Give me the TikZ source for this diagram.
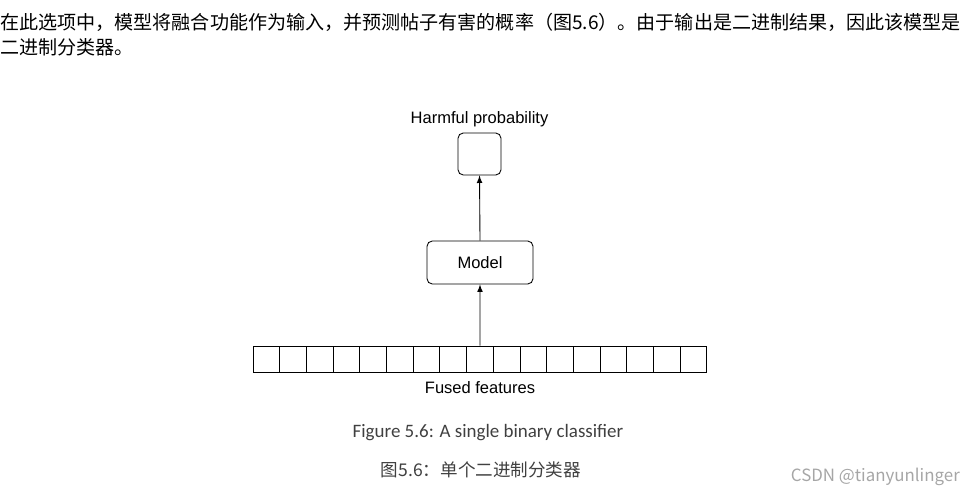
\documentclass[tikz,border=0pt]{standalone}
\usepackage{fontspec}
\setmainfont{Liberation Sans}
\newfontfamily\cjk{Noto Sans CJK SC}
\newfontfamily\capfont{Carlito}
\usetikzlibrary{positioning}

\begin{document}
\begin{tikzpicture}[x=0.02cm, y=-0.02cm,
    box/.style={rectangle, draw, rounded corners=3pt, line width=0.5pt},
    cell/.style={rectangle, draw, line width=0.5pt, minimum width=0.534cm, minimum height=0.52cm, inner sep=0pt},
    lbl/.style={font=\fontsize{9.4pt}{11pt}\selectfont},
    arr/.style={-latex, line width=0.5pt}]
  \useasboundingbox (0,0) rectangle (969,493);
  % Intro text
  \node (intro1) [anchor=west, inner sep=0pt, font=\cjk\fontsize{10.85pt}{12pt}\selectfont] at (0,22) {在此选项中，模型将融合功能作为输入，并预测帖子有害的概率（图5.6）。由于输出是二进制结果，因此该模型是};
  \node (intro2) [anchor=west, inner sep=0pt, font=\cjk\fontsize{10.85pt}{12pt}\selectfont] at (0,47) {二进制分类器。};
  % Nodes
  \node (out) [box, minimum width=0.86cm, minimum height=0.84cm] at (479.5,154) {};
  \node (outlbl) [lbl] at (479.5,119) {Harmful probability};
  \node (model) [box, minimum width=2.12cm, minimum height=0.86cm, lbl] at (480,262.5) {Model};
  % Feature cells
  \foreach \i in {0,...,16}
    \node (f\i) [cell] at ({253+26.7*\i+13.35},359) {};
  \node (flbl) [lbl] at (480,388) {Fused features};
  % Arrows
  \draw[arr] (f8.north) -- (model.south);
  \draw[arr] (model.north) -- (out.south);
  % Captions
  \node (cap) [font=\capfont\fontsize{10.8pt}{12pt}\selectfont, text=black!75] at (488,433) {Figure 5.6: A single binary classifier};
  \node (capzh) [font=\cjk\fontsize{10pt}{12pt}\selectfont, text=black!75] at (481,470) {图5.6：单个二进制分类器};
  \node (mark) [anchor=east, font=\cjk\fontsize{9.6pt}{12pt}\selectfont, text=black!35] at (966,477) {CSDN @tianyunlinger};
\end{tikzpicture}
\end{document}
